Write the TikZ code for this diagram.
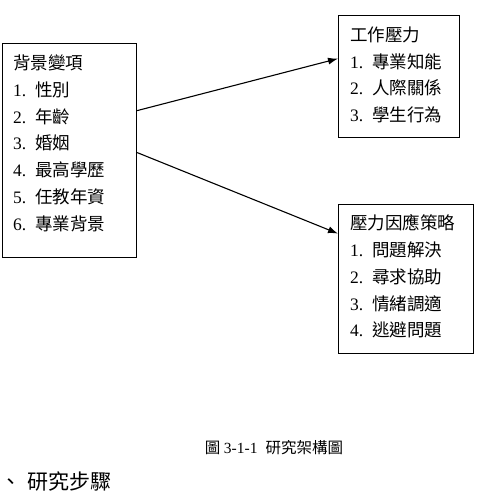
\documentclass[tikz,border=0pt]{standalone}
\usepackage{fontspec}
\setmainfont{Noto Sans CJK TC}
\newfontfamily\latin{Liberation Serif}
\usetikzlibrary{arrows.meta,positioning,calc}
\newcommand{\itm}[2]{{\latin #1.}\hspace{9pt}#2}

\begin{document}
\begin{tikzpicture}
[x=1pt,y=1pt,
box/.style={draw=black,line width=1.2pt,anchor=north west,inner sep=0pt},
list/.style={anchor=north west,inner sep=0pt,align=left,
  font=\fontsize{17.5}{26.8}\selectfont},
link/.style={line width=1.1pt,-{Latex[length=10pt,width=7pt]}}]
\useasboundingbox (0,0) rectangle (483,-500);
%%
% boxes
%%
\node[box,minimum width=134pt,minimum height=214pt] (bg) at (2,-43) {};
\node[box,minimum width=121pt,minimum height=122pt] (stress) at (338,-15) {};
\node[box,minimum width=135pt,minimum height=149pt] (coping) at (338,-204) {};
%%
% lists
%%
\node[list] (bgtext) at (13,-54.5) {背景變項\\ \itm{1}{性別}\\ \itm{2}{年齡}\\
  \itm{3}{婚姻}\\ \itm{4}{最高學歷}\\ \itm{5}{任教年資}\\ \itm{6}{專業背景}};
\node[list] (stresstext) at (350,-26.5) {工作壓力\\ \itm{1}{專業知能}\\
  \itm{2}{人際關係}\\ \itm{3}{學生行為}};
\node[list] (copingtext) at (350,-214.5) {壓力因應策略\\ \itm{1}{問題解決}\\
  \itm{2}{尋求協助}\\ \itm{3}{情緒調適}\\ \itm{4}{逃避問題}};
%%
% arrows
%%
\draw[link] ([yshift=40pt]bg.east) -- ([yshift=18pt]stress.west);
\draw[link] ([yshift=-2pt]bg.east) -- ([yshift=45.5pt]coping.west);
%%
% caption
%%
\node[font=\fontsize{15.5}{18}\selectfont] (cap) at (274,-448)
  {圖 {\latin 3-1-1}\hspace{8pt}研究架構圖};
\node[anchor=west,inner sep=0pt,font=\fontsize{21}{24}\selectfont] (step) at (0,-482)
  {、\hspace{6pt}研究步驟};
\end{tikzpicture}
\end{document}
